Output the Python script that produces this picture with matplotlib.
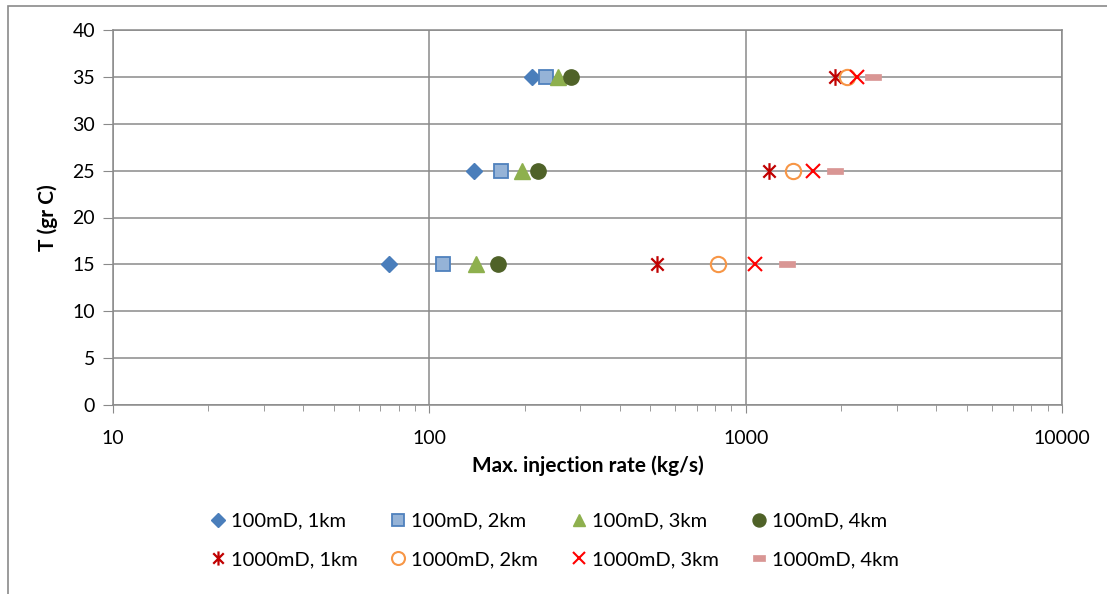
import matplotlib
matplotlib.use("Agg")
import matplotlib.pyplot as plt
from matplotlib.path import Path
from matplotlib.patches import Rectangle
from matplotlib.ticker import LogLocator, NullFormatter, FixedLocator

plt.rcParams['font.family'] = ['Lato', 'DejaVu Sans']

# temperatures (gr C) for each series
temps = [15, 25, 35]

# max. injection rate (kg/s), 100mD permeability
rate_100_1km = [74.7, 138.5, 211]
rate_100_2km = [110.7, 169, 234]
rate_100_3km = [140.5, 197, 255]
rate_100_4km = [165, 221, 281]

# max. injection rate (kg/s), 1000mD permeability
rate_1000_1km = [523, 1188, 1920]
rate_1000_2km = [816, 1415, 2087]
rate_1000_3km = [1071, 1629, 2255]
rate_1000_4km = [1349, 1917, 2533]

labels = ['100mD, 1km', '100mD, 2km', '100mD, 3km', '100mD, 4km',
          '1000mD, 1km', '1000mD, 2km', '1000mD, 3km', '1000mD, 4km']

# star marker: an X with a vertical bar through it
star = Path([(-1, -1), (1, 1), (-1, 1), (1, -1), (0, -1.35), (0, 1.35)],
            [Path.MOVETO, Path.LINETO, Path.MOVETO, Path.LINETO, Path.MOVETO, Path.LINETO])
# short flat bar marker
bar = Path([(-1, -0.4), (1, -0.4), (1, 0.4), (-1, 0.4), (-1, -0.4)],
           [Path.MOVETO, Path.LINETO, Path.LINETO, Path.LINETO, Path.CLOSEPOLY])

fig = plt.figure(figsize=(11.07, 5.94), dpi=100)
ax = fig.add_axes([113 / 1107, 1 - 405 / 594, 949 / 1107, 375 / 594])

# outer chart border
fig.patches.append(Rectangle((8 / 1107, -0.1), 1.2, 1 - 6 / 594 + 0.1, transform=fig.transFigure,
                             fill=False, edgecolor='#8a8a8a', lw=1.2))

h = []
h += ax.plot(rate_100_1km, temps, ls='none', marker='D', ms=8.5, mfc='#4A7EBB', mec='#4A7EBB', label=labels[0])
h += ax.plot(rate_100_2km, temps, ls='none', marker='s', ms=10, mfc='#95B3D7', mec='#4F81BD', mew=1.3, label=labels[1])
h += ax.plot(rate_100_3km, temps, ls='none', marker='^', ms=11, mfc='#8EB04E', mec='#8EB04E', label=labels[2])
h += ax.plot(rate_100_4km, temps, ls='none', marker='o', ms=11, mfc='#4F6228', mec='#4F6228', label=labels[3])
h += ax.plot(rate_1000_1km, temps, ls='none', marker=star, ms=12, mfc='none', mec='#C00000', mew=1.6, label=labels[4])
h += ax.plot(rate_1000_2km, temps, ls='none', marker='o', ms=11, mfc='none', mec='#F79646', mew=1.5, label=labels[5])
h += ax.plot(rate_1000_3km, temps, ls='none', marker='x', ms=10, mfc='none', mec='#FF0000', mew=1.5, label=labels[6])
h += ax.plot(rate_1000_4km, temps, ls='none', marker=bar, ms=11, mfc='#D99694', mec='#D99694', mew=0.5, label=labels[7])

ax.set_xscale('log')
ax.set_xlim(10, 10000)
ax.set_ylim(0, 40)
ax.set_yticks(range(0, 41, 5))
ax.xaxis.set_major_locator(FixedLocator([10, 100, 1000, 10000]))
ax.set_xticklabels(['10', '100', '1000', '10000'])
ax.xaxis.set_minor_locator(LogLocator(base=10, subs=range(2, 10)))
ax.xaxis.set_minor_formatter(NullFormatter())

grid_c = '#8a8a8a'
ax.grid(True, which='major', color=grid_c, lw=1.1)
ax.set_axisbelow(True)
for s in ax.spines.values():
    s.set_color(grid_c)
    s.set_linewidth(1.1)
ax.tick_params(axis='both', which='major', color=grid_c, labelsize=14, labelcolor='#000000')
ax.tick_params(axis='x', which='major', length=6, pad=12)
ax.tick_params(axis='x', which='minor', length=4, color=grid_c)
ax.tick_params(axis='y', which='major', length=7, pad=6)

ax.set_xlabel('Max. injection rate (kg/s)', fontsize=15, fontweight='bold', labelpad=6)
ax.set_ylabel('T (gr C)', fontsize=15, fontweight='bold', labelpad=10)

# legend filled row by row (two rows of four)
order = [0, 4, 1, 5, 2, 6, 3, 7]
fig.legend([h[i] for i in order], [labels[i] for i in order],
           loc='lower left', bbox_to_anchor=(192 / 1107, 8 / 594), ncol=4, frameon=False,
           fontsize=14.5, numpoints=1, handlelength=0.8, handletextpad=0.25,
           columnspacing=1.6, labelspacing=1.05, markerscale=0.85)

fig.savefig('out.png', dpi=100)
